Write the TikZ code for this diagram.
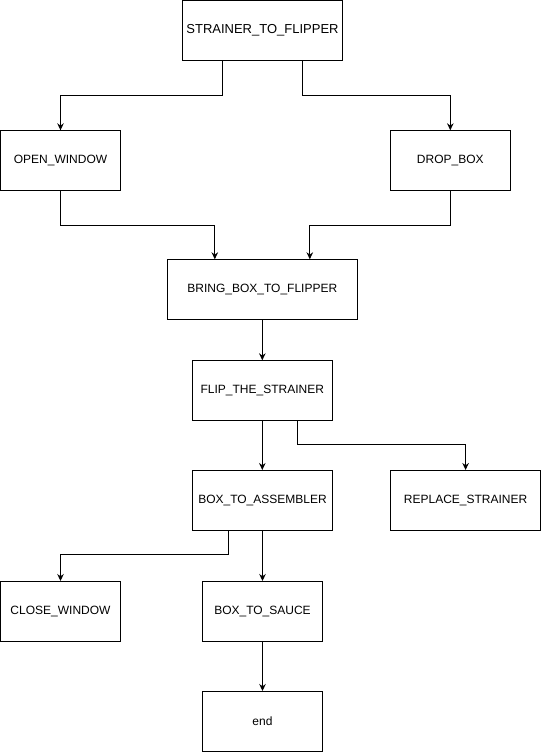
\documentclass[tikz,border=0pt]{standalone}
\usepackage{fontspec}
\setmainfont{Liberation Sans}
\usetikzlibrary{arrows.meta}
\begin{document}
\begin{tikzpicture}[x=1pt,y=-1pt,
  box/.style={draw=black,line width=1pt,fill=white,inner sep=0pt,outer sep=0pt,
    minimum height=60pt,font=\fontsize{12}{14}\selectfont},
  arr/.style={draw=black,line width=1pt,-{Stealth[length=7pt,width=6.5pt]}}]
\fill[white] (0,0) rectangle (541,752);
\useasboundingbox (0,0) rectangle (541,752);
\node[box,minimum width=160pt,font=\fontsize{13}{15}\selectfont] (s2f) at (262.5,30.5) {STRAINER\_TO\_FLIPPER};
\node[box,minimum width=120pt] (ow) at (60.5,160.3) {OPEN\_WINDOW};
\node[box,minimum width=120pt] (db) at (450.3,160.3) {DROP\_BOX};
\node[box,minimum width=190pt] (bb) at (262.3,289.3) {BRING\_BOX\_TO\_FLIPPER};
\node[box,minimum width=140pt] (fl) at (262.3,390.3) {FLIP\_THE\_STRAINER};
\node[box,minimum width=140pt] (ba) at (262.5,500) {BOX\_TO\_ASSEMBLER};
\node[box,minimum width=150pt] (rs) at (465.6,500) {REPLACE\_STRAINER};
\node[box,minimum width=120pt] (cw) at (60.5,611) {CLOSE\_WINDOW};
\node[box,minimum width=120pt] (bs) at (262.5,611) {BOX\_TO\_SAUCE};
\node[box,minimum width=120pt] (en) at (262.5,721) {end};

\draw[arr] ([xshift=-40pt]s2f.south) -- ++(0,34.5) -| (ow.north);
\draw[arr] ([xshift=40pt]s2f.south) -- ++(0,34.5) -| (db.north);
\draw[arr] (ow.south) -- ++(0,34.7) -| ([xshift=-47.5pt]bb.north);
\draw[arr] (db.south) -- ++(0,34.7) -| ([xshift=47.5pt]bb.north);
\draw[arr] (bb.south) -- (fl.north);
\draw[arr] (fl.south) -- (fl.south |- ba.north);
\draw[arr] ([xshift=35pt]fl.south) -- ++(0,24) -| (rs.north);
\draw[arr] ([xshift=-34pt]ba.south) -- ++(0,24.5) -| (cw.north);
\draw[arr] (ba.south) -- (ba.south |- bs.north);
\draw[arr] (bs.south) -- (en.north);
\end{tikzpicture}
\end{document}
